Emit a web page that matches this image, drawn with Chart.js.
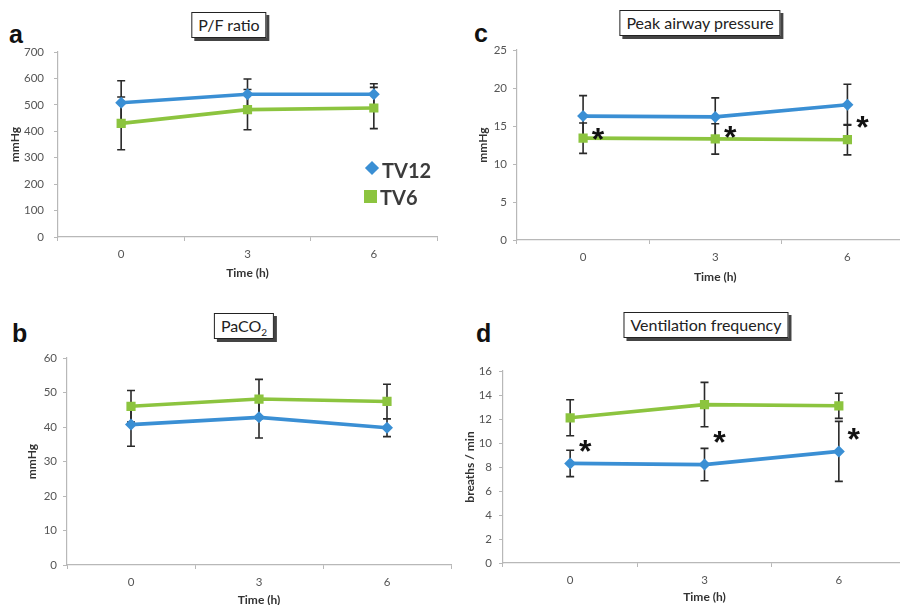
<!DOCTYPE html>
<html>
<head>
<meta charset="utf-8">
<script src="https://cdn.jsdelivr.net/npm/chart.js@4"></script>
<style>
  html,body{margin:0;padding:0;background:#fff;width:900px;height:605px;overflow:hidden;position:relative;font-family:Lato,"Open Sans",sans-serif;}
  .panel{position:absolute;}
  .letter{position:absolute;font-family:"Liberation Sans",Arial,sans-serif;font-weight:bold;font-size:25px;color:#111;line-height:1;}
  .ttl{position:absolute;transform:translateX(-50%);border:1.3px solid #222;box-shadow:3px 3px 0 #444;background:#fff;font-family:Lato,sans-serif;font-size:16px;color:#222;padding:1px 6px 2px 6px;white-space:nowrap;line-height:21px;}
  .leg{position:absolute;font-family:Lato,sans-serif;font-size:20px;font-weight:bold;color:#3b3b3b;line-height:1;}
  .mk{position:absolute;}
</style>
</head>
<body>
<div class="letter" style="left:9px;top:22px;">a</div>
<div class="letter" style="left:474px;top:21px;">c</div>
<div class="letter" style="left:12px;top:321px;">b</div>
<div class="letter" style="left:476px;top:321px;">d</div>

<div class="ttl" style="left:229px;top:12px;">P/F ratio</div>
<div class="ttl" style="left:700px;top:10px;">Peak airway pressure</div>
<div class="ttl" style="left:244px;top:313px;">PaCO<sub style="font-size:10px;line-height:0;">2</sub></div>
<div class="ttl" style="left:706px;top:312px;">Ventilation frequency</div>

<div class="panel" style="left:0;top:0;width:450px;height:300px;"><canvas id="cA"></canvas></div>
<div class="panel" style="left:450px;top:0;width:470px;height:300px;"><canvas id="cC"></canvas></div>
<div class="panel" style="left:0;top:300px;width:460px;height:305px;"><canvas id="cB"></canvas></div>
<div class="panel" style="left:450px;top:300px;width:470px;height:305px;"><canvas id="cD"></canvas></div>

<div class="mk" style="left:367px;top:163px;width:10px;height:10px;background:#3a8fd4;transform:rotate(45deg);"></div>
<div class="leg" style="left:382px;top:160px;">TV12</div>
<div class="mk" style="left:364px;top:190px;width:13px;height:13px;background:#8cc43f;"></div>
<div class="leg" style="left:380px;top:187px;">TV6</div>

<script>
// ---------- data ----------
const timeLabels = ['0', '3', '6'];

// a: P/F ratio (mmHg)
const pfTV12 = [508, 540, 540];
const pfTV12Err = [83, 58, 40];
const pfTV6 = [430, 482, 488];
const pfTV6Err = [100, 76, 78];

// b: PaCO2 (mmHg)
const co2TV12 = [40.7, 42.8, 39.8];
const co2TV12Err = [6.3, 6.0, 2.6];
const co2TV6 = [46.0, 48.1, 47.4];
const co2TV6Err = [4.6, 5.7, 5.0];

// c: Peak airway pressure (mmHg)
const pawTV12 = [16.3, 16.2, 17.8];
const pawTV12Err = [2.7, 2.5, 2.7];
const pawTV6 = [13.4, 13.3, 13.2];
const pawTV6Err = [2.0, 2.0, 2.0];
const pawSig = [14.5, 14.8, 16.0];

// d: Ventilation frequency (breaths / min)
const vfTV12 = [8.3, 8.2, 9.3];
const vfTV12Err = [1.1, 1.35, 2.5];
const vfTV6 = [12.1, 13.2, 13.1];
const vfTV6Err = [1.5, 1.85, 1.05];
const vfSig = [10.1, 10.8, 11.1];

// ---------- style ----------
const BLUE = '#3a8fd4';
const GREEN = '#8cc43f';

const errorBarPlugin = {
  id: 'errorBars',
  beforeDatasetsDraw(chart) {
    const ctx = chart.ctx;
    const y = chart.scales.y;
    ctx.save();
    ctx.strokeStyle = '#2a2a2a';
    ctx.lineWidth = 1.6;
    chart.data.datasets.forEach((ds, di) => {
      if (!ds.errors) return;
      const meta = chart.getDatasetMeta(di);
      meta.data.forEach((pt, i) => {
        const x = pt.x;
        const yT = y.getPixelForValue(ds.data[i] + ds.errors[i]);
        const yB = y.getPixelForValue(ds.data[i] - ds.errors[i]);
        ctx.beginPath();
        ctx.moveTo(x, yT); ctx.lineTo(x, yB);
        ctx.moveTo(x - 4, yT); ctx.lineTo(x + 4, yT);
        ctx.moveTo(x - 4, yB); ctx.lineTo(x + 4, yB);
        ctx.stroke();
      });
    });
    ctx.restore();
  },
  afterDatasetsDraw(chart) {
    const sig = chart.options.plugins.errorBars && chart.options.plugins.errorBars.sig;
    if (!sig) return;
    const ctx = chart.ctx;
    const xs = chart.scales.x, ys = chart.scales.y;
    ctx.save();
    ctx.fillStyle = '#111';
    ctx.font = 'bold 32px "Liberation Sans"';
    ctx.textAlign = 'center';
    ctx.textBaseline = 'alphabetic';
    sig.forEach((v, i) => {
      const x = xs.getPixelForValue(i) + 15;
      const yy = ys.getPixelForValue(v) + 20;
      ctx.fillText('*', x, yy);
    });
    ctx.restore();
  }
};

function makeChart(id, cfg) {
  const axisX = cfg.axisX, top = cfg.top, bottom = cfg.bottom, right = cfg.right;
  const W = cfg.W, H = cfg.H;
  return new Chart(document.getElementById(id), {
    type: 'line',
    data: {
      labels: timeLabels,
      datasets: [
        { label: 'TV12', data: cfg.tv12, errors: cfg.tv12Err, borderColor: BLUE, backgroundColor: BLUE,
          borderWidth: 3.6, pointStyle: 'rectRot', pointRadius: 6, pointBorderWidth: 0, tension: 0 },
        { label: 'TV6', data: cfg.tv6, errors: cfg.tv6Err, borderColor: GREEN, backgroundColor: GREEN,
          borderWidth: 3.6, pointStyle: 'rect', pointRadius: 6.5, pointBorderWidth: 0, tension: 0 }
      ]
    },
    options: {
      responsive: true,
      maintainAspectRatio: false,
      animation: false,
      events: [],
      layout: { padding: { left: 0, top: top, right: W - right, bottom: 0 } },
      plugins: {
        legend: { display: false },
        tooltip: { enabled: false },
        errorBars: { sig: cfg.sig || null }
      },
      scales: {
        x: {
          type: 'category',
          offset: true,
          grid: { display: true, offset: true, drawOnChartArea: false, color: '#b8b8b8', tickLength: 4, tickWidth: 1 },
          border: { color: '#b8b8b8', width: 1.2 },
          ticks: { color: '#555', font: { family: 'Lato', size: 11.5 }, padding: 6, maxRotation: 0 },
          title: { display: true, text: 'Time (h)', color: '#333', font: { family: 'Lato', size: 12, weight: 'bold' },
                   padding: { top: 0, bottom: H - cfg.titleY - 7.2 } },
          afterFit(s) { s.height = H - bottom; }
        },
        y: {
          min: cfg.min, max: cfg.max,
          ticks: { stepSize: cfg.step, color: '#555', font: { family: 'Lato', size: 11.5 }, padding: cfg.tickPad },
          grid: { display: true, drawOnChartArea: false, color: '#b8b8b8', tickLength: 4 },
          border: { color: '#b8b8b8', width: 1.2 },
          title: { display: true, text: cfg.yTitle, color: '#333', font: { family: 'Lato', size: 12, weight: 'bold' },
                   padding: { top: cfg.yTitleX - 7.2, bottom: 0 } },
          afterFit(s) { s.width = axisX; }
        }
      }
    },
    plugins: [errorBarPlugin]
  });
}

makeChart('cA', { W: 450, H: 300, axisX: 58, top: 52, bottom: 237, right: 437, titleY: 273,
  min: 0, max: 700, step: 100, tickPad: 10, yTitle: 'mmHg', yTitleX: 15,
  tv12: pfTV12, tv12Err: pfTV12Err, tv6: pfTV6, tv6Err: pfTV6Err });

makeChart('cC', { W: 470, H: 300, axisX: 67, top: 50, bottom: 240, right: 469, titleY: 277,
  min: 0, max: 25, step: 5, tickPad: 6, yTitle: 'mmHg', yTitleX: 33,
  tv12: pawTV12, tv12Err: pawTV12Err, tv6: pawTV6, tv6Err: pawTV6Err, sig: pawSig });

makeChart('cB', { W: 460, H: 305, axisX: 67, top: 58, bottom: 265, right: 451, titleY: 300,
  min: 0, max: 60, step: 10, tickPad: 6, yTitle: 'mmHg', yTitleX: 32,
  tv12: co2TV12, tv12Err: co2TV12Err, tv6: co2TV6, tv6Err: co2TV6Err });

makeChart('cD', { W: 470, H: 305, axisX: 53, top: 71, bottom: 263, right: 456, titleY: 297,
  min: 0, max: 16, step: 2, tickPad: 7, yTitle: 'breaths / min', yTitleX: 20,
  tv12: vfTV12, tv12Err: vfTV12Err, tv6: vfTV6, tv6Err: vfTV6Err, sig: vfSig });
</script>
</body>
</html>
